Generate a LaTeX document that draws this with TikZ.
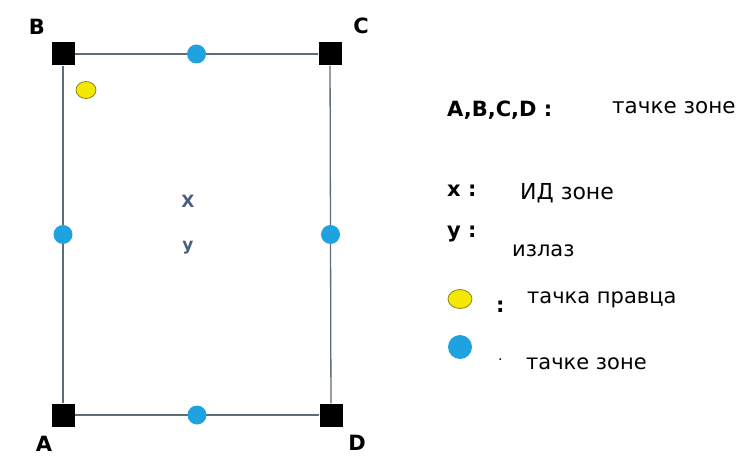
\documentclass[tikz,border=0pt]{standalone}
\usepackage{fontspec}
\setmainfont{DejaVu Sans}
\usetikzlibrary{calc,shapes.geometric}
\definecolor{zblue}{HTML}{1FA3E0}
\definecolor{zyellow}{HTML}{F4E800}
\definecolor{zyborder}{HTML}{8A8420}
\definecolor{zline}{HTML}{5E6C78}
\definecolor{zxy}{HTML}{4C5E7E}
\begin{document}
\begin{tikzpicture}[x=1pt,y=-1pt,
  corner/.style={rectangle,fill=black,minimum size=23pt,inner sep=0pt},
  zdot/.style={circle,fill=zblue,minimum size=19pt,inner sep=0pt},
  ydot/.style={ellipse,fill=zyellow,draw=zyborder,line width=0.8pt,minimum width=20pt,minimum height=17pt,inner sep=0pt},
  side/.style={draw=zline,line width=1.3pt},
  clbl/.style={font=\bfseries\fontsize{21}{23}\selectfont,inner sep=0pt},
  cxy/.style={font=\bfseries\fontsize{17}{19}\selectfont,text=zxy,inner sep=0pt},
  keyb/.style={font=\bfseries\fontsize{21}{23}\selectfont,anchor=base west,inner sep=0pt},
  keyt/.style={font=\fontsize{21}{23}\selectfont,anchor=base west,inner sep=0pt}]
\useasboundingbox (0,0) rectangle (738,457);
% corners
\node[corner] (A) at (63,415) {};
\node[corner] (B) at (63,54) {};
\node[corner] (C) at (330,54) {};
\node[corner] (D) at (331,415) {};
\draw[side] (B) -- (C);
\draw[side] (C) -- (D);
\draw[side] (D) -- (A);
\draw[side] (A) -- (B);
% mid dots
\node[zdot] (m1) at ($(B)!0.5!(C)$) {};
\node[zdot] (m2) at ($(A)!0.5!(D)$) {};
\node[zdot] (m3) at ($(A)!0.5!(B)$) {};
\node[zdot] (m4) at ($(C)!0.5!(D)$) {};
\node[ydot] (yd) at (86,90) {};
% corner labels
\node[clbl] (lB) at (37,27) {B};
\node[clbl] (lC) at (361,26) {C};
\node[clbl] (lA) at (44,444) {A};
\node[clbl] (lD) at (357,443) {D};
% inner labels
\node[cxy] (lx) at (188,201) {X};
\node[cxy] (ly) at (188,248) {y};
% legend
\node[keyb] (k1) at (447,117) {A,B,C,D :};
\node[keyt,font=\fontsize{21.5}{23}\selectfont] (t1) at (612,114) {тачке зоне};
\node[keyb] (k2) at (447,196) {x :};
\node[keyt,font=\fontsize{22}{24}\selectfont] (t2) at (520,199) {ИД зоне};
\node[keyb] (k3) at (447,237) {y :};
\node[keyt] (t3) at (512,256) {излаз};
\node[ydot,minimum width=24pt,minimum height=19pt] (ky) at (460,299) {};
\node[keyb] (k4) at (496,312) {:};
\node[keyt] (t4) at (527,303) {тачка правца};
\node[zdot,minimum size=24pt] (kb) at (460,347) {};
\node[keyb,font=\fontsize{14}{16}\selectfont] (k5) at (498,360) {.};
\node[keyt] (t5) at (526,369) {тачке зоне};
\end{tikzpicture}
\end{document}
